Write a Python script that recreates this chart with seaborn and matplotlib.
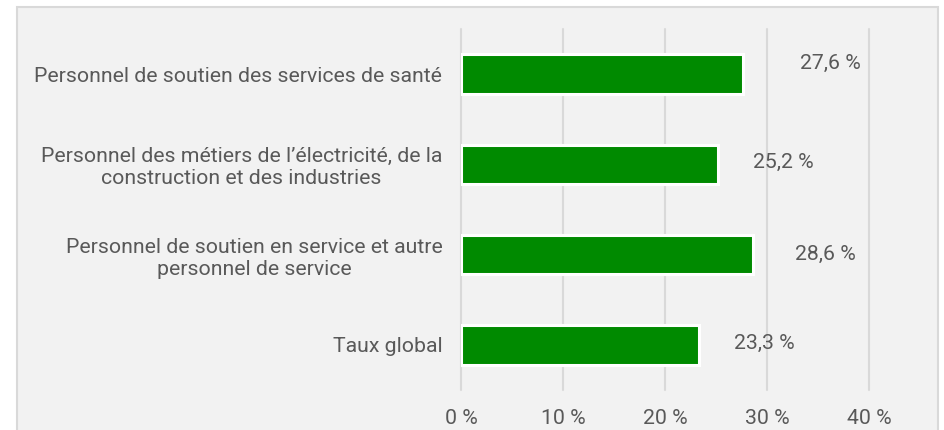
import matplotlib
matplotlib.use("Agg")
import matplotlib.pyplot as plt
import seaborn as sns
import pandas as pd
from matplotlib.patches import Rectangle

# --- DONNEES ---
categories = [
    "Personnel de soutien des services de santé",
    "Personnel des métiers de l’électricité, de la\nconstruction et des industries",
    "Personnel de soutien en service et autre\npersonnel de service",
    "Taux global",
]
valeurs = [27.6, 25.2, 28.6, 23.3]
etiquettes = ["27,6 %", "25,2 %", "28,6 %", "23,3 %"]
ticks = [0, 10, 20, 30, 40]
tick_labels = ["0 %", "10 %", "20 %", "30 %", "40 %"]

# decalage des etiquettes (pixels) par barre
label_dx = [57, 35, 42, 35]
label_dy = [11, 2, 0, 1]

GRIS_TEXTE = "#595959"
VERT = "#008a00"
TAILLE = 15.3

df = pd.DataFrame({"cat": categories, "val": valeurs})

sns.set_theme(style="white")
plt.rcParams["font.family"] = ["Roboto", "DejaVu Sans"]

fig = plt.figure(figsize=(9.44, 4.30), dpi=100)
fig.patch.set_facecolor("white")
# cadre gris clair
fig.patches.append(Rectangle((17 / 944, -0.05), (938 - 17) / 944, 1.05 - 7 / 430,
                             transform=fig.transFigure, facecolor="#f2f2f2",
                             edgecolor="#d9d9d9", linewidth=1.5, zorder=-5))

ax = fig.add_axes([461 / 944, 1 - 390 / 430, (869 - 461) / 944, (390 - 29) / 430])
ax.set_facecolor("none")

sns.barplot(data=df, x="val", y="cat", color=VERT, saturation=1, width=0.44,
            edgecolor="white", linewidth=2.2, ax=ax, zorder=3)

ax.set_xlim(0, 40)
ax.set_ylim(3.5, -0.5)
ax.set_xticks(ticks)
ax.set_xticklabels(tick_labels, fontsize=TAILLE, color=GRIS_TEXTE)
ax.tick_params(axis="y", labelsize=TAILLE, labelcolor=GRIS_TEXTE, length=0, pad=13.5)
ax.tick_params(axis="x", length=0, pad=13.5)
for lab in ax.get_yticklabels():
    lab.set_multialignment("center")
ax.set_xlabel("")
ax.set_ylabel("")
for s in ax.spines.values():
    s.set_visible(False)
for t in ticks:
    ax.axvline(t, color="#d9d9d9", linewidth=1.5, zorder=1, clip_on=False)

for i, (v, txt) in enumerate(zip(valeurs, etiquettes)):
    ax.annotate(txt, xy=(v, i), xytext=(label_dx[i], label_dy[i]),
                textcoords="offset pixels", ha="left", va="center",
                fontsize=TAILLE, color=GRIS_TEXTE)

fig.savefig("out.png", dpi=100)
